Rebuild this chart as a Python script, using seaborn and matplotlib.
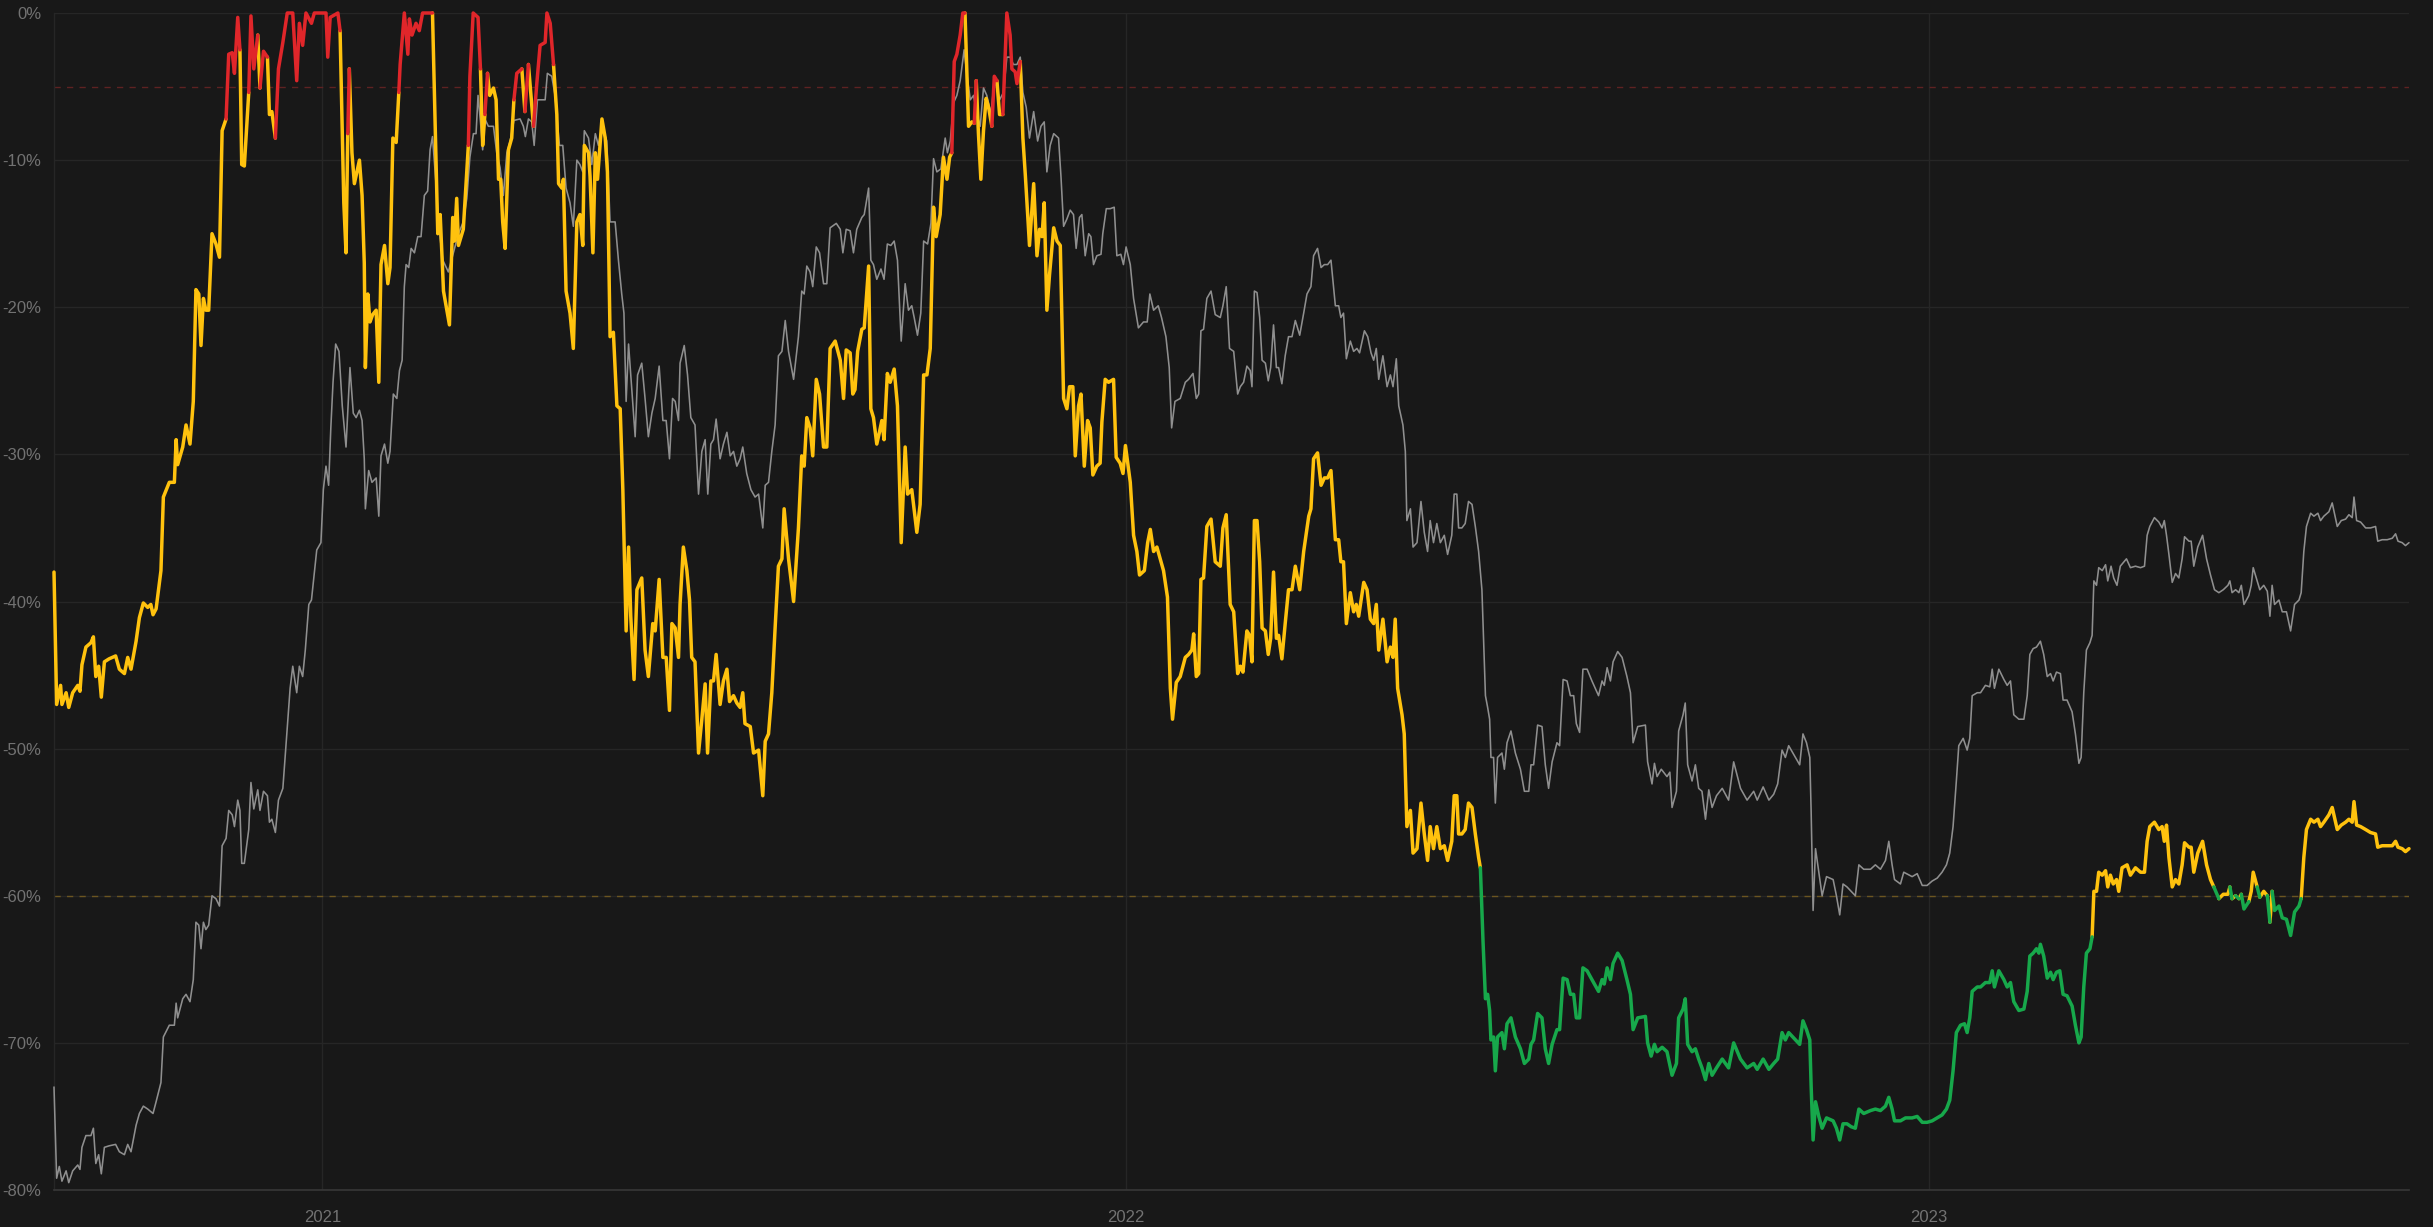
import numpy as np
import pandas as pd
import matplotlib
matplotlib.use("Agg")
import matplotlib.pyplot as plt
import seaborn as sns

# ---------------- data ----------------
START_DATE = "2020-09-01"

# thick coloured series: day offsets from START_DATE and drawdown values (%)
main_days = [
    0, 1.2, 3, 3.6, 5.5, 6.7, 8.5, 10.8, 11.8, 12.7, 14.5, 16.8, 17.9, 19, 20.3, 21.5, 22.9, 25, 28, 29.7,
    32, 33.5, 35, 37.3, 38.8, 40.6, 42.6, 44, 45, 46.4, 48.6, 49.7, 52.4, 54.7, 55.5, 56.2, 58.5, 60, 61.8, 63.3,
    64.5, 65.8, 66.8, 67.9, 69, 70.3, 71.8, 73.6, 75.2, 76.4, 78.2, 79.4, 81, 82, 83.5, 84.5, 85.3, 86.5, 88.5, 89.5,
    90.8, 92.6, 93.6, 95.2, 97, 97.9, 99, 100.6, 102, 104, 106, 108.5, 110.3, 111.5, 113, 114.5, 117, 118.3, 123.6, 124.4,
    125.5, 129, 130, 131.7, 132.7, 133.5, 134.2, 135.4, 136.5, 138.8, 140, 141, 141.5, 142.6, 143.6, 144.8, 146.4, 147.6, 148.6, 150.2,
    151.7, 152.7, 154, 155.5, 156.7, 157.3, 159.2, 160.8, 161.5, 162.7, 164.5, 166, 167.5, 170.6, 172, 174.4,
    175.5, 177, 179.7, 181.2, 182, 183, 183.8, 186, 188.3, 189, 190.5, 192.7, 193.8, 194.8, 195.8, 197, 198, 199.7, 200.9, 202,
    203, 203.9, 205, 206.5, 208, 209, 210.3, 212.6, 214, 215.6, 217.9, 219.4, 220.9, 223.2, 224, 225.5, 227, 228.5, 229.3, 230.8,
    231.5, 232.7, 234.5, 236, 237.6, 239, 240.3, 241, 242.9, 243.6, 244.9, 246, 247, 249, 250.5, 251.5, 252.7, 254.2, 255.8, 257.3,
    258.5, 260, 261.1, 262.1, 263.6, 264.9, 267.1, 268.6, 270.1, 272.1, 273.2, 275, 276.7, 278.2, 279.7, 280.8, 282.3, 283.8, 284.5, 286,
    287.6, 288.8, 289.8, 291.3, 292.9, 294.4, 295.9, 297, 298.5, 299.7, 300.9, 302.7, 304.2, 305.8, 307, 308.8, 310.3, 311.8, 313, 314,
    316.4, 317.9, 320.2, 322.1, 323.2, 324.7, 326.2, 327.7, 329.2, 330.8, 331.8, 333.8, 336.1, 338.3, 339.8, 340.9, 342.1, 343.6, 344.8, 346.4,
    347.9, 349.7, 351.2, 352.7, 355,
    357.3, 358.8, 360, 361.8, 363, 364, 365.2, 367.1, 368.2, 370.2, 371.2, 372.4, 373.9, 375.1, 376.2, 377.2, 378.7, 380, 381.8, 383.3,
    385, 386.8, 387.9, 389.8, 390.6, 392.1, 393.6, 395.2, 396.7, 398.2, 399.7, 400.9, 402.7, 404.2, 405.8, 407, 408, 409.1, 410.3, 411.8,
    413, 414, 415.6, 417.1, 418.2, 419.1, 420.1, 421.2, 422.4, 423.6, 424.7, 426.2, 427.3, 428.5, 429.7, 431.2, 433, 434.5, 435.3, 436.8,
    437.6, 439.1, 440.3, 441.4, 443.3, 445.2, 446.7, 447.9, 449, 450, 451.2, 452.4, 454.3, 455.8, 457.3, 458.8, 460.3, 461.5, 463, 464.1,
    465.6, 466.7, 468.2, 469.7, 470.9, 472.1, 473.9, 475.4, 476.2, 477.7, 479.2, 481.5, 482.7, 484.5, 485.8, 486.9, 489.1, 490.6, 492.1, 493.3,
    495.5, 497, 498.2, 499.7, 501.2, 502.7, 504.2, 506, 507.3, 508.3, 510, 511.8, 514.1, 515.6, 517.1, 517.9, 519.1, 520.2, 521.2, 522.4,
    523.9, 525.8, 527.7, 530, 531.2, 532.7, 534.5, 536.1, 537.9,
    539.1, 540.3, 542.1, 543.3, 544.4, 545.5, 546.7, 547.9, 549, 550.5, 551.8, 552.9, 554.2, 555.5, 556.5, 558, 559.5, 561, 562.6, 564.1,
    566.1, 567.9, 570.2, 571.2, 572.4, 574.2, 575.8, 577.3, 578.8, 580.3, 582.3, 583.8, 584.8, 586, 587.3, 589.1, 590.6, 591.8, 592.9, 595.2,
    596.7, 598.2, 599.7, 600.9, 602, 603.9, 605.8, 607.3, 608.5, 609.5, 610.6, 612.6, 613.6, 614.8, 616.4, 617.6, 619.4, 621.2, 622.7, 624.2,
    625.4, 626.9, 628.4, 630, 631.8, 633.3, 635.2, 636.3, 637.5, 638.3, 639.8, 641.3, 642.8, 644.4, 645.9, 647.4, 648.2, 649.4, 650.5, 651.5,
    652.4, 653, 654.2, 655, 656, 658, 659.1, 660.3, 662.1, 664.1, 666.4, 668.2, 670.2, 671.2, 672.4, 674.2, 676.2, 677.7, 679.2, 680.8,
    683, 684.2, 685.8, 687.6, 689.1, 690.6, 691.8, 693.3, 694.8, 696.7, 698.9, 701.9, 703.5, 704.5, 705.8, 707.3, 708.5, 710.6, 712.6, 714.8,
    716.4, 717.6, 719.7,
    723.2, 724.2, 725.8, 727.3, 728.5, 730.8, 733, 735.3, 737.3, 738.3, 740.3, 741.3, 742.4, 744.4, 745.9, 747.4, 748.9, 750.5, 752, 753.5,
    755.5, 758.1, 761, 763.3, 766.4, 769.4, 772.4, 774, 776.7, 779.3, 781.5, 783.3, 785.3, 786.8, 788.3, 791.4, 793.3, 794.8, 796.4, 797.9,
    798.5, 799.4, 800.5, 802, 803.5, 805.5, 808.5, 810, 811.5, 813, 814.8, 816.7, 818.6, 820.2, 822.4, 825.5, 827.7, 830, 832.3, 833.8,
    835.3, 836.4, 839.1, 841.4, 844.4, 846.7, 849, 851.2, 853.5, 855.8, 858, 860, 861.5, 863, 864.5, 866.4, 868.2, 869.4, 870.6, 871.7,
    874, 875.5, 877.7, 879.7, 880.8, 881.8, 883.8, 886.1, 887.6, 889.1, 890.6, 892.9, 895.2, 896.7, 897.9,
    899.4, 900.9, 902, 902.7, 904.2, 905.8, 907.3, 908.5, 910, 911.5, 913, 914.8, 917.1, 918.6, 920.2, 921.2, 922.4, 923.6, 925.2, 926.2,
    927, 928.2, 929.2, 930.8, 932.3, 933.3, 934.5, 935.8, 937.3, 938.3, 939.8, 942.1, 943.6, 945.9, 948.2, 950, 951.2, 952.4, 954.5, 956.5,
    958, 959, 960, 961.1, 962.6, 964.1, 965.6, 967.1, 968.2, 970.2, 971.2, 972.4, 974.2, 976.4, 978.2, 980, 981.5, 983.8, 985.8, 987.9,
    988.8, 989.8, 991.4, 992.9, 994, 995.2, 997.4, 998.5, 999.4, 1001.2, 1002.4, 1004.2, 1005.8, 1007, 1008, 1009.1, 1011.1, 1012.6, 1014.5, 1016.4,
    1018.2, 1020.2, 1021.2, 1022.4, 1023.6, 1025.5, 1027, 1028.8, 1030, 1031.5, 1033.8, 1035.3, 1037.6, 1039.4, 1041.4, 1042.9, 1044.4, 1045.2, 1046.4, 1048.2,
    1050.5, 1052.7, 1055, 1056, 1058, 1060.3, 1062.6, 1064.1, 1065.2, 1067.1, 1068.6, 1070.2,
]
main_vals = [
    -38.0, -47.0, -45.7, -47.0, -46.2, -47.2, -46.2, -45.7, -46.1, -44.3, -43.1, -42.8, -42.4, -45.1, -44.4, -46.5, -44.1, -43.9, -43.7, -44.6,
    -44.9, -43.8, -44.6, -42.7, -41.1, -40.1, -40.4, -40.2, -40.9, -40.5, -37.9, -32.9, -31.9, -31.9, -29.0, -30.7, -29.5, -28.0, -29.3, -26.4,
    -18.8, -19.1, -22.6, -19.4, -20.2, -20.2, -15.0, -15.7, -16.6, -8.0, -7.2, -2.8, -2.7, -4.1, -0.3, -2.5, -10.3, -10.4, -5.4, -0.2,
    -3.8, -1.5, -5.1, -2.6, -3.0, -6.9, -6.7, -8.5, -3.8, -2.0, 0.0, 0.0, -4.6, -0.7, -2.2, 0.0, -0.7, 0.0, 0.0, -3.0,
    -0.3, 0.0, -1.2, -12.9, -16.3, -8.2, -3.8, -9.5, -11.6, -10.0, -12.4, -17.0, -24.1, -19.1, -21.0, -20.5, -20.2, -25.1, -17.1, -15.8,
    -18.4, -17.3, -8.5, -8.8, -5.4, -3.5, 0.0, -2.8, -0.4, -1.5, -0.7, -1.2, 0.0, 0.0, 0.0, -15.0,
    -13.7, -18.9, -21.2, -13.9, -15.5, -12.6, -15.8, -14.7, -9.0, -4.3, 0.0, -0.3, -3.8, -9.0, -6.9, -4.1, -5.6, -5.1, -5.9, -11.3,
    -11.3, -14.2, -16.0, -9.3, -8.5, -5.9, -4.1, -3.8, -6.7, -3.5, -7.7, -4.8, -2.2, -2.0, 0.0, -0.7, -3.5, -6.9, -11.6, -11.9,
    -11.3, -18.9, -20.4, -22.8, -14.2, -13.7, -15.8, -9.0, -9.5, -11.1, -16.3, -9.5, -11.3, -7.2, -8.5, -10.8, -22.0, -21.7, -26.7, -26.9,
    -32.4, -42.0, -36.3, -41.0, -45.3, -39.2, -38.4, -43.3, -45.1, -41.5, -42.0, -38.5, -43.8, -43.8, -47.4, -41.5, -41.8, -43.8, -40.2, -36.3,
    -37.9, -39.9, -43.8, -44.1, -50.3, -48.0, -45.6, -50.3, -45.4, -45.4, -43.6, -47.0, -45.4, -44.6, -46.8, -46.4, -46.9, -47.2, -46.2, -48.3,
    -48.5, -50.3, -50.1, -53.2, -49.5, -49.0, -46.2, -41.8, -37.6, -37.1, -33.7, -37.1, -40.0, -35.0, -30.1, -30.8, -27.5, -28.2, -30.1, -24.9,
    -25.9, -29.5, -29.5, -22.8, -22.3,
    -23.6, -26.2, -22.9, -23.1, -25.9, -25.6, -23.0, -21.5, -21.4, -17.2, -26.9, -27.5, -29.3, -28.5, -27.7, -29.0, -24.5, -25.1, -24.2, -26.7,
    -36.0, -29.5, -32.7, -32.4, -33.4, -35.3, -33.4, -24.6, -24.6, -22.8, -13.2, -15.2, -13.7, -9.8, -11.3, -9.8, -9.5, -3.3, -2.8, -1.5,
    0.0, 0.0, -7.7, -7.4, -7.5, -4.6, -8.2, -11.3, -8.0, -5.8, -6.4, -7.7, -4.3, -4.6, -6.9, -6.9, 0.0, -1.5, -3.8, -4.0,
    -4.8, -3.3, -8.5, -11.0, -15.8, -11.6, -16.5, -14.7, -15.2, -12.9, -20.2, -17.8, -14.6, -15.5, -15.8, -26.2, -26.9, -25.4, -25.4, -30.1,
    -26.7, -25.9, -30.8, -27.7, -28.2, -31.4, -30.8, -30.6, -27.8, -24.9, -25.1, -24.9, -30.2, -30.6, -31.3, -29.4, -31.9, -35.5, -36.6, -38.2,
    -37.9, -36.0, -35.1, -36.6, -36.3, -37.1, -37.9, -39.7, -45.9, -48.0, -45.5, -45.1, -43.8, -43.6, -43.3, -42.2, -45.1, -44.9, -38.5, -38.4,
    -34.9, -34.4, -37.3, -37.6, -35.0, -34.1, -40.2, -40.7, -44.9,
    -44.4, -44.8, -42.0, -42.3, -44.1, -34.5, -34.5, -37.3, -41.8, -42.0, -43.6, -42.5, -38.0, -42.5, -42.3, -43.9, -41.5, -39.2, -39.2, -37.6,
    -39.2, -36.6, -34.2, -33.7, -30.3, -29.9, -32.1, -31.6, -31.6, -31.1, -35.8, -35.8, -37.3, -37.3, -41.5, -39.4, -40.7, -40.2, -41.0, -38.7,
    -39.2, -41.2, -41.5, -40.2, -43.3, -41.2, -44.1, -43.1, -43.8, -41.2, -45.9, -47.7, -49.0, -55.3, -54.2, -57.1, -56.8, -53.7, -55.8, -57.6,
    -55.3, -56.8, -55.3, -56.8, -56.6, -57.6, -56.3, -53.2, -53.2, -55.8, -55.8, -55.5, -53.7, -54.0, -55.8, -57.4, -58.1, -63.1, -67.0, -66.7,
    -67.8, -69.8, -69.6, -71.9, -69.6, -69.3, -70.4, -68.7, -68.3, -69.6, -70.4, -71.4, -71.1, -70.1, -69.8, -68.0, -68.3, -70.4, -71.4, -70.1,
    -69.1, -69.1, -65.6, -65.7, -66.7, -66.7, -68.3, -68.3, -64.9, -65.1, -65.7, -66.5, -65.7, -66.0, -64.9, -65.7, -64.6, -63.9, -64.4, -65.7,
    -66.7, -69.1, -68.3,
    -68.2, -70.0, -70.9, -70.1, -70.6, -70.3, -70.6, -72.2, -71.4, -68.3, -67.7, -67.0, -70.1, -70.6, -70.4, -71.1, -71.7, -72.5, -71.4, -72.2,
    -71.7, -71.1, -71.7, -70.0, -71.1, -71.7, -71.4, -71.8, -71.1, -71.8, -71.4, -71.1, -69.3, -69.8, -69.3, -69.8, -70.1, -68.5, -69.1, -69.8,
    -72.9, -76.6, -74.0, -75.0, -75.8, -75.1, -75.3, -75.8, -76.6, -75.5, -75.5, -75.7, -75.8, -74.5, -74.8, -74.6, -74.5, -74.6, -74.3, -73.7,
    -74.5, -75.3, -75.3, -75.1, -75.1, -75.0, -75.4, -75.4, -75.3, -75.1, -74.9, -74.5, -73.9, -71.9, -69.3, -68.8, -68.7, -69.3, -68.3, -66.5,
    -66.2, -66.2, -65.9, -65.9, -65.1, -66.2, -65.1, -65.7, -66.2, -65.9, -67.2, -67.8, -67.7, -66.5, -64.1,
    -63.9, -63.6, -63.9, -63.3, -64.1, -65.6, -65.2, -65.7, -65.2, -65.1, -66.7, -66.8, -67.5, -68.8, -70.0, -69.6, -66.2, -63.9, -63.6, -62.8,
    -59.7, -59.7, -58.4, -58.6, -58.3, -59.4, -58.6, -59.2, -58.9, -59.7, -58.1, -57.9, -58.6, -58.1, -58.4, -58.4, -56.3, -55.3, -55.0, -55.5,
    -55.3, -56.3, -55.2, -57.4, -59.4, -58.9, -59.2, -57.9, -56.4, -56.7, -56.7, -58.4, -57.1, -56.3, -57.9, -58.9, -59.4, -60.2, -59.9, -59.9,
    -59.4, -60.2, -60.0, -60.2, -59.9, -60.9, -60.4, -59.7, -58.4, -59.4, -60.1, -59.7, -60.0, -61.8, -59.7, -61.0, -60.7, -61.5, -61.6, -62.7,
    -61.1, -60.7, -60.2, -57.4, -55.5, -54.8, -55.0, -54.8, -55.3, -55.0, -54.5, -54.0, -55.5, -55.2, -55.0, -54.8, -55.0, -53.6, -55.2, -55.3,
    -55.5, -55.7, -55.8, -56.7, -56.6, -56.6, -56.6, -56.3, -56.7, -56.8, -57.0, -56.8,
]

# thin grey series
grey_days = [
    0, 1.2, 2.4, 3.6, 5.5, 6.7, 8.5, 10.8, 11.8, 12.7, 14.5, 16.8, 17.9, 19, 20.3, 21.5, 22.9, 25, 28, 29.7,
    32, 33.5, 35, 37.3, 38.8, 40.6, 42.6, 45, 46.4, 48.6, 49.7, 52.4, 54.7, 55.5, 56.2, 58.5, 60, 61.8, 63.3, 64.5,
    65.8, 66.8, 67.9, 69, 70.3, 71.8, 73.6, 75.2, 76.4, 78.2, 79.4, 81, 82, 83.5, 84.5, 85.3, 86.5, 88.5, 89.5, 90.8,
    92.6, 93.6, 95.2, 97, 97.9, 99, 100.6, 102, 104, 105.8, 107.3, 108.5, 110.3, 111.5, 113, 114.2, 115.8, 117, 117.9, 119.4,
    121.3, 122.4, 123.6, 124.8, 125.8, 126.8, 128, 129.5, 131, 132.7, 134.5, 136, 137.3, 138.8, 140, 141, 141.5, 143, 144.5, 146.4,
    147.6, 148.6, 150.2, 151.7, 152.7, 154.2, 155.8, 157, 158.2, 159.2, 160, 161.2, 162.3, 163.8, 165.3, 166.8, 168.3, 169.8, 170.9, 172,
    173.6, 175,
    176.7, 179.2, 181.5, 183.8, 186, 187.6, 189, 190.6, 191.8, 192.7, 193.8, 194.8, 195.8, 197.4, 199.7, 201.2, 202.7, 204.2, 205.8, 207.3,
    209, 211.8, 213.3, 214.2, 215.6, 217.1, 218.2, 219.7, 221.7, 223.2, 224.2, 226.2, 227.7, 229.7, 231.2, 232.7, 234.5, 236, 237.6, 239,
    240.3, 241, 242.9, 244.4, 246, 247.4, 249, 251.2, 252.7, 255, 256.5, 258, 259, 260, 261.1, 262.6, 264.1, 265.2, 267.1, 268.6,
    270.1, 271.7, 273.2, 275, 276.7, 278.2, 279.7, 281.1, 282.3, 283.8, 284.5, 286.4, 287.9, 289.4, 291.3, 292.9, 294.4, 295.9, 297.1, 298.5,
    299.7, 300.9, 302.7, 304.2, 305.8, 307.3, 308.8, 310.3, 311.8, 313, 314.8, 316.7, 318.6, 320.2, 322.1, 323.2, 324.7, 326.2, 327.7, 329.2,
    330.8, 332.3, 333.8, 336.1, 338.3, 339.8, 340.9, 342.1, 343.6, 344.8, 346.4, 347.9, 349.7, 351.2, 352.7, 355.5,
    357.3, 358.5, 360, 361.8, 363.3, 364.8, 367.1, 368.2, 370.2, 371.2, 372.4, 373.9, 375.8, 377.2, 378.7, 380.3, 381.8, 383.3, 385, 386.8,
    388.3, 389.8, 390.9, 392.4, 393.9, 395.2, 397, 398.5, 399.7, 401.2, 403, 405, 406, 407.3, 408.8, 410.3, 411.8, 413.6, 414.8, 416.4,
    417.9, 419.4, 420.9, 422.4, 423.9, 425.8, 427.3, 428.5, 429.7, 431.5, 433, 434.5, 436, 437.6, 439.1, 440.3, 441.8, 443.3, 445.2, 447,
    448.5, 450, 451.2, 452.7, 454.3, 456.5, 457.6, 458.8, 460.3, 461.8, 463.3, 464.5, 466, 467.1, 468.6, 470.2, 471.2, 472.4, 473.9, 475.8,
    476.6, 478.2, 480, 481.8, 483, 484.8, 486, 487.2, 489.1, 490.6, 492.8, 495.1, 496.8, 498, 499.7, 501.8, 503.3, 505.3, 506.8, 507.9,
    509.4, 511.8, 514.1, 515.6, 517.6, 519.1, 520.2, 521.2, 522.4, 523.9, 525.8, 527.7, 530, 531.2, 532.7, 534.2, 536.1, 537.9,
    539.1, 540.6, 542.1, 543.6, 544.4, 545.5, 546.7, 547.9, 549, 550.5, 551.8, 552.9, 554.2, 555.5, 556.5, 558, 559.5, 561, 562.6, 564.1,
    566.1, 567.9, 569.4, 571.2, 572.4, 574.2, 575.8, 577.3, 578.8, 580.3, 582.3, 583.8, 584.8, 586, 587.3, 589.1, 590.6, 592.1, 593.3, 595.5,
    597, 598.5, 599.7, 600.9, 602, 603.9, 605.8, 607.3, 608.5, 610, 611.1, 613, 614.1, 614.8, 616.4, 617.6, 619.4, 621.2, 622.7, 624.2,
    625.4, 626.9, 628.4, 630, 631.8, 633.3, 635.2, 636.3, 637.5, 638.3, 639.8, 641.3, 642.8, 644.4, 645.9, 647.4, 648.9, 649.7, 650.5, 651.5,
    652.4, 653, 654.2, 655, 656, 658, 659.1, 660.3, 662.1, 664.1, 666.4, 668.2, 670.2, 671.2, 672.4, 674.2, 676.2, 677.7, 679.2, 680.8,
    683, 684.2, 685.8, 687.6, 689.1, 690.6, 691.8, 693.3, 694.8, 696.7, 698.9, 701.9, 703.5, 704.5, 705.8, 707.3, 708.5, 710.6, 712.6, 714.8,
    716.4, 717.6, 719.7,
    723.2, 724.2, 726.2, 727.3, 728.5, 730.4, 733, 734.3, 735.3, 737.3, 738.3, 740.3, 741.3, 742.4, 744.4, 745.9, 747.4, 748.9, 750.5, 752,
    753.5, 755.5, 758.1, 761, 763.3, 766.4, 769.4, 772.4, 774, 776.7, 779.3, 781.5, 783.3, 785.3, 786.8, 788.3, 791.4, 793.3, 794.8, 796.4,
    797.9, 798.5, 799.4, 800.5, 802, 803.5, 805.5, 808.5, 810, 811.5, 813, 814.8, 816.7, 818.6, 820.2, 822.4, 825.5, 827.7, 830, 832.3,
    833.8, 835.3, 836.4, 839.1, 840.6, 844.4, 846.7, 849, 851.2, 853.5, 855.8, 858, 860, 861.5, 863, 864.5, 865.6, 867.6, 869.4, 870.6,
    871.7, 874, 875.5, 877.7, 879.7, 880.8, 881.8, 883.8, 886.1, 887.6, 889.1, 890.6, 892.9, 895.2, 896.7, 897.9,
    899.4, 900.9, 902.7, 904.2, 905.8, 907.3, 908.5, 910, 911.8, 913, 914.8, 917.1, 918.6, 920.2, 921.2, 922.4, 923.6, 925.2, 926.2, 927,
    928.2, 929.2, 930.8, 932.3, 933.3, 934.8, 936, 937.5, 939, 941.8, 943.6, 945.9, 948.2, 950, 951.2, 952.4, 954.5, 956.5, 958, 959,
    960, 961.1, 962.6, 964.1, 965.6, 967.1, 968.2, 970.2, 971.2, 972.4, 974.2, 976.4, 978.2, 980, 981.8, 983.8, 985.8, 987.9, 988.8, 989.8,
    991.4, 992.9, 994, 995.2, 997.4, 998.5, 999.4, 1001.2, 1002.4, 1004.2, 1005.8, 1007, 1008, 1009.1, 1011.1, 1012.6, 1014.5, 1016.4, 1018.2, 1020.2,
    1021.2, 1022.4, 1023.6, 1025.5, 1027, 1028.8, 1030, 1031.5, 1033.8, 1035.3, 1037.6, 1039.4, 1041.4, 1042.9, 1044.4, 1045.2, 1046.4, 1048.2, 1050.5, 1052.7,
    1055, 1056, 1058, 1060.3, 1062.6, 1064.1, 1065.2, 1067.1, 1068.6, 1070.2,
]
grey_vals = [
    -73.0, -79.2, -78.4, -79.4, -78.7, -79.5, -78.7, -78.3, -78.6, -77.1, -76.3, -76.3, -75.8, -78.2, -77.6, -78.9, -77.1, -77.0, -76.9, -77.4,
    -77.6, -76.9, -77.4, -75.6, -74.8, -74.3, -74.5, -74.8, -74.0, -72.7, -69.6, -68.8, -68.8, -67.3, -68.3, -67.0, -66.7, -67.2, -65.7, -61.8,
    -62.0, -63.6, -61.8, -62.3, -62.0, -60.0, -60.2, -60.7, -56.6, -56.1, -54.2, -54.5, -55.3, -53.5, -54.2, -57.8, -57.8, -55.5, -52.3, -54.1,
    -52.8, -54.2, -52.9, -53.2, -55.0, -54.8, -55.7, -53.5, -52.7, -49.0, -45.9, -44.4, -46.2, -44.4, -45.1, -43.3, -40.2, -39.9, -38.6, -36.5,
    -36.0, -32.4, -30.8, -32.1, -28.2, -25.1, -22.5, -23.0, -26.7, -29.5, -24.1, -27.2, -27.5, -27.0, -27.7, -30.3, -33.7, -31.1, -31.9, -31.6,
    -34.2, -30.1, -29.3, -30.6, -29.8, -25.9, -26.2, -24.3, -23.6, -18.6, -17.1, -17.3, -16.0, -16.3, -15.2, -15.2, -12.4, -12.1, -9.3, -8.4,
    -11.6, -14.7,
    -16.8, -17.6, -16.3, -15.0, -14.2, -12.6, -9.8, -8.2, -8.2, -5.6, -7.4, -9.3, -7.2, -7.7, -7.7, -9.5, -10.5, -12.4, -9.5, -8.7,
    -7.3, -7.2, -7.7, -8.4, -7.2, -7.4, -9.0, -5.9, -5.9, -5.9, -4.1, -4.3, -5.6, -9.0, -9.0, -11.9, -12.9, -14.5, -10.0, -10.3,
    -10.8, -8.0, -8.5, -10.3, -8.2, -9.0, -7.7, -8.7, -14.2, -14.2, -16.8, -19.1, -20.4, -26.4, -22.5, -25.6, -28.8, -24.6, -23.8, -26.2,
    -28.8, -27.2, -26.2, -24.0, -27.7, -27.7, -30.3, -26.2, -26.4, -27.7, -23.8, -22.6, -24.6, -27.5, -28.0, -32.7, -29.8, -29.0, -32.7, -29.3,
    -29.0, -27.6, -30.3, -29.3, -28.5, -30.1, -29.8, -30.8, -30.3, -29.5, -31.3, -32.4, -32.9, -32.7, -35.0, -32.1, -31.9, -29.8, -28.0, -23.3,
    -23.0, -20.9, -23.0, -24.9, -22.0, -18.9, -19.1, -17.2, -17.6, -18.6, -15.9, -16.3, -18.4, -18.4, -14.6, -14.3,
    -14.7, -16.3, -14.7, -14.8, -16.3, -14.7, -13.9, -13.7, -11.9, -16.8, -17.1, -18.1, -17.4, -18.1, -15.7, -15.8, -15.5, -16.8, -22.3, -18.4,
    -20.2, -19.9, -20.7, -21.9, -20.4, -15.5, -15.7, -14.3, -9.9, -10.8, -10.6, -8.5, -9.5, -8.7, -6.1, -5.6, -4.6, -2.5, -4.1, -5.9,
    -5.6, -6.9, -7.7, -5.1, -5.6, -6.9, -4.6, -5.1, -5.9, -5.4, -3.0, -3.0, -3.5, -3.5, -3.0, -5.4, -6.4, -8.5, -6.7, -8.7,
    -7.7, -7.4, -10.8, -9.0, -8.2, -8.5, -11.1, -14.5, -14.0, -13.4, -13.7, -16.0, -13.9, -13.7, -16.5, -15.0, -15.2, -17.1, -16.5, -16.4,
    -15.0, -13.3, -13.3, -13.2, -16.5, -16.4, -17.1, -15.9, -17.1, -19.4, -21.4, -21.0, -21.0, -19.1, -20.2, -19.9, -20.7, -22.0, -24.1, -28.2,
    -26.4, -26.2, -25.1, -24.9, -24.5, -26.2, -25.9, -21.6, -21.5, -19.4, -18.9, -20.5, -20.7, -19.9, -18.6, -22.8, -23.0, -25.9,
    -25.4, -25.1, -24.0, -24.3, -25.4, -18.9, -19.0, -20.7, -23.6, -23.8, -25.0, -24.1, -21.2, -24.1, -24.1, -25.2, -23.3, -22.0, -22.0, -20.9,
    -21.9, -20.4, -19.1, -18.6, -16.5, -16.0, -17.3, -17.1, -17.1, -16.8, -19.9, -19.9, -20.7, -20.4, -23.5, -22.3, -23.0, -22.8, -23.1, -21.6,
    -22.0, -23.1, -23.6, -22.8, -24.9, -23.3, -25.4, -24.6, -25.4, -23.5, -26.7, -28.0, -29.8, -34.5, -33.7, -36.3, -36.0, -33.2, -35.3, -36.6,
    -34.5, -36.0, -34.7, -36.0, -35.5, -36.8, -35.5, -32.7, -32.7, -35.0, -35.0, -34.7, -33.2, -33.4, -34.9, -36.6, -39.2, -42.8, -46.4, -47.2,
    -48.0, -50.6, -50.6, -53.7, -50.6, -50.3, -51.4, -49.6, -48.8, -50.3, -51.4, -52.9, -52.9, -51.1, -51.1, -48.4, -48.5, -51.1, -52.7, -50.9,
    -49.6, -49.8, -45.3, -45.4, -46.4, -46.4, -48.3, -48.9, -44.6, -44.6, -45.4, -46.4, -45.4, -45.7, -44.5, -45.4, -44.1, -43.4, -43.8, -45.1,
    -46.2, -49.6, -48.5,
    -48.4, -50.9, -52.4, -51.0, -51.9, -51.4, -51.9, -51.6, -54.0, -52.9, -48.8, -47.7, -46.9, -51.1, -52.2, -51.1, -52.7, -52.9, -54.8, -52.8,
    -54.0, -53.2, -52.7, -53.5, -50.9, -52.7, -53.5, -52.9, -53.5, -52.6, -53.5, -53.1, -52.4, -50.1, -50.6, -49.8, -50.6, -51.1, -49.0, -49.6,
    -50.6, -54.2, -61.0, -56.8, -58.4, -60.0, -58.7, -58.9, -60.0, -61.3, -59.2, -59.4, -59.7, -60.0, -57.9, -58.2, -58.2, -57.9, -58.2, -57.6,
    -56.3, -57.9, -58.9, -59.2, -58.4, -58.7, -58.5, -59.3, -59.3, -59.0, -58.8, -58.4, -57.9, -57.1, -55.3, -52.2, -49.8, -49.3, -50.1, -49.3,
    -46.4, -46.2, -46.2, -45.7, -45.8, -44.6, -45.9, -44.6, -45.3, -45.7, -45.4, -47.7, -48.0, -48.0, -46.4, -43.6,
    -43.2, -43.1, -42.7, -43.6, -45.1, -44.9, -45.4, -44.8, -44.9, -46.7, -46.7, -47.5, -49.0, -51.0, -50.6, -46.2, -43.3, -42.8, -42.3, -38.6,
    -38.9, -37.7, -37.9, -37.5, -38.6, -37.6, -38.4, -38.9, -37.6, -37.1, -37.7, -37.6, -37.7, -37.6, -35.5, -34.9, -34.3, -34.6, -35.0, -34.5,
    -35.5, -36.8, -38.7, -38.1, -38.4, -37.1, -35.6, -35.9, -35.9, -37.6, -36.3, -35.5, -37.1, -38.2, -39.2, -39.4, -39.2, -38.9, -38.6, -39.4,
    -39.2, -39.4, -38.9, -40.2, -39.6, -38.9, -37.7, -38.6, -39.2, -38.9, -39.3, -41.0, -38.9, -40.2, -39.9, -40.7, -40.7, -42.0, -40.2, -39.9,
    -39.4, -36.6, -34.9, -34.0, -34.2, -34.0, -34.5, -34.2, -33.9, -33.3, -34.9, -34.5, -34.4, -34.1, -34.3, -32.9, -34.5, -34.6, -35.0, -35.0,
    -34.9, -35.9, -35.8, -35.8, -35.7, -35.4, -35.9, -36.0, -36.2, -36.0,
]

y_ticks = [0, -10, -20, -30, -40, -50, -60, -70, -80]
y_tick_labels = ["0%", "-10%", "-20%", "-30%", "-40%", "-50%", "-60%", "-70%", "-80%"]
x_ticks = ["2021-01-01", "2022-01-01", "2023-01-01"]
x_tick_labels = ["2021", "2022", "2023"]
upper_threshold = -5
lower_threshold = -60

# ---------------- styling ----------------
BG = "#181818"
GRID = "#262626"
TEXT = "#727272"
C_GREY = "#8f8f8f"
C_YELLOW = "#FFC20E"
C_RED = "#E0262A"
C_GREEN = "#17A84B"

sns.set_theme(style="dark")
plt.rcParams["font.family"] = ["Liberation Sans", "DejaVu Sans"]
plt.rcParams["axes.facecolor"] = BG
plt.rcParams["figure.facecolor"] = BG

W, H = 2433, 1227
fig = plt.figure(figsize=(W / 100, H / 100), dpi=100)
ax = fig.add_axes([54 / W, 1 - 1190 / H, (2409 - 54) / W, (1190 - 13) / H])
ax.set_facecolor(BG)

start = pd.Timestamp(START_DATE)

# grey series
gd = np.array(grey_days, dtype=float)
gv = np.array(grey_vals, dtype=float)
go = np.argsort(gd, kind="stable")
grey_df = pd.DataFrame({
    "date": start + pd.to_timedelta(gd[go], unit="D"),
    "value": gv[go],
})
sns.lineplot(data=grey_df, x="date", y="value", color=C_GREY, linewidth=1.15,
             estimator=None, sort=False, ax=ax, zorder=3, clip_on=False,
             solid_joinstyle="round")

# coloured series: each segment takes the colour of its end point
md = np.array(main_days, dtype=float)
mv = np.array(main_vals, dtype=float)
mo = np.argsort(md, kind="stable")
md, mv = md[mo], mv[mo]


def zone(v):
    if v > upper_threshold:
        return "high"
    if v < lower_threshold:
        return "low"
    return "mid"


seg_cols = [zone(v) for v in mv[1:]]
rows = []
unit = 0
i = 0
n = len(seg_cols)
while i < n:
    j = i
    while j + 1 < n and seg_cols[j + 1] == seg_cols[i]:
        j += 1
    for p in range(i, j + 2):
        rows.append((md[p], mv[p], seg_cols[i], unit))
    unit += 1
    i = j + 1

seg_df = pd.DataFrame(rows, columns=["day", "value", "zone", "unit"])
seg_df["date"] = start + pd.to_timedelta(seg_df["day"], unit="D")
palette = {"high": C_RED, "mid": C_YELLOW, "low": C_GREEN}
sns.lineplot(data=seg_df, x="date", y="value", hue="zone", units="unit",
             estimator=None, sort=False, palette=palette, legend=False,
             linewidth=2.5, ax=ax, zorder=4, clip_on=False,
             solid_joinstyle="round", solid_capstyle="round")

# threshold lines
ax.axhline(upper_threshold, color="#5e2222", lw=1.0, ls=(0, (4.5, 4.5)), zorder=2)
ax.axhline(lower_threshold, color="#6b5520", lw=1.0, ls=(0, (4.5, 4.5)), zorder=2)

# axes
ax.set_ylim(-80, 0)
ax.set_xlim(start, start + pd.Timedelta(days=float(md.max())))
ax.set_yticks(y_ticks)
ax.set_yticklabels(y_tick_labels)
ax.set_xticks(pd.to_datetime(x_ticks))
ax.set_xticklabels(x_tick_labels)
ax.set_xlabel("")
ax.set_ylabel("")

ax.grid(True, axis="both", color=GRID, linewidth=1.0, zorder=0)
ax.set_axisbelow(True)
for side in ["top", "right"]:
    ax.spines[side].set_visible(False)
ax.spines["left"].set_color(GRID)
ax.spines["left"].set_linewidth(1.0)
ax.spines["bottom"].set_color("#383838")
ax.spines["bottom"].set_linewidth(1.2)

ax.tick_params(axis="y", length=0, pad=9, labelsize=12, labelcolor=TEXT)
ax.tick_params(axis="x", length=8.5, width=1.0, color=GRID, pad=6,
               labelsize=12, labelcolor=TEXT)

fig.savefig("out.png", dpi=100, facecolor=BG)
